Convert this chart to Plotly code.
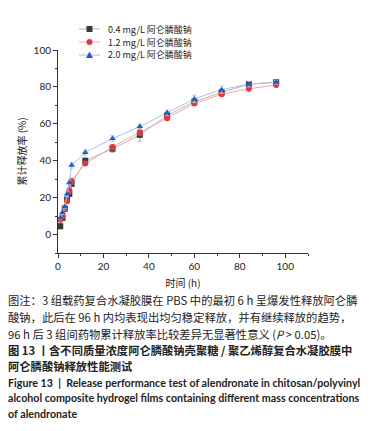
import plotly.graph_objects as go

times = [1, 2, 3, 4, 5, 6, 12, 24, 36, 48, 60, 72, 84, 96]
s04 = [4.5, 9, 14, 19, 22, 27.5, 40, 46.5, 54, 64.5, 72, 77, 81.5, 82.5]
s12 = [8, 10, 14, 18, 24, 29, 38.5, 47.5, 55.5, 63, 71, 76, 79, 81]
s20 = [9, 12, 15, 22, 28, 37.5, 44.5, 52, 58.5, 66, 73.5, 78.5, 81.5, 82.5]
e04 = [1.5, 1, 1, 1, 1.5, 1.5, 1.5, 2, 3.5, 1.5, 1.5, 1, 1, 1]
e12 = [1, 1, 1, 1, 1.5, 1.5, 1, 1.5, 1.5, 1, 1, 1, 1, 1]
e20 = [1, 1, 1, 1.5, 1.5, 1.5, 1.5, 1.5, 1.5, 1.5, 2, 2, 1.5, 1]
names = ["0.4 mg/L 阿仑膦酸钠", "1.2 mg/L 阿仑膦酸钠", "2.0 mg/L 阿仑膦酸钠"]

FONT = "Lato, 'Noto Sans CJK SC', sans-serif"
CJK = "'Noto Sans CJK SC', Lato, sans-serif"

series = [
    (s04, e04, names[0], "square", "#3a3a3a", "#b8b8b8"),
    (s12, e12, names[1], "circle", "#e0383c", "#f2a8aa"),
    (s20, e20, names[2], "triangle-up", "#1f5fc4", "#a6c2ea"),
]

L, R, T, B = 58, 70, 50, 178
W, H = 378, 431
pw = W - L - R
ph = H - T - B

def px_x(xp):
    return (xp - L) / pw

def px_y(yp):
    return (H - B - yp) / ph

fig = go.Figure()
for ys, es, nm, sym, mc, lc in series:
    fig.add_trace(go.Scatter(
        x=times, y=ys, name=nm, mode="lines+markers",
        line=dict(color=lc, width=1),
        marker=dict(symbol=sym, color=mc, size=6),
        error_y=dict(type="data", array=es, color=lc, thickness=1, width=2),
        showlegend=False,
    ))

fig.update_layout(
    width=W, height=H,
    margin=dict(l=L, r=R, t=T, b=B, autoexpand=False),
    paper_bgcolor="white", plot_bgcolor="white",
    font=dict(family=FONT, size=10, color="#222"),
    xaxis=dict(range=[0, 110], tickvals=[0, 20, 40, 60, 80, 100],
               ticks="outside", ticklen=4, tickcolor="#333",
               minor=dict(dtick=10, ticks="outside", ticklen=2, tickcolor="#333"),
               showline=True, linecolor="#333", linewidth=1, showgrid=False, zeroline=False,
               title=dict(text="时间 (h)", font=dict(family=CJK, size=10), standoff=8)),
    yaxis=dict(range=[-10, 100], tickvals=[0, 20, 40, 60, 80, 100],
               ticks="outside", ticklen=4, tickcolor="#333",
               minor=dict(dtick=10, ticks="outside", ticklen=2, tickcolor="#333"),
               showline=True, linecolor="#333", linewidth=1, showgrid=False, zeroline=False,
               title=dict(text="累计释放率 (%)", font=dict(family=CJK, size=10), standoff=5)),
)

# manual compact legend
leg_rows = [29, 42, 55]
for (ys, es, nm, sym, mc, lc), yr in zip(series, leg_rows):
    yy = px_y(yr)
    fig.add_shape(type="line", xref="paper", yref="paper",
                  x0=px_x(79), x1=px_x(100), y0=yy, y1=yy,
                  line=dict(color=lc, width=1))
    cx, cy, r = 89.5, yr, 3
    if sym == "square":
        fig.add_shape(type="rect", xref="paper", yref="paper",
                      x0=px_x(cx - r), x1=px_x(cx + r), y0=px_y(cy + r), y1=px_y(cy - r),
                      fillcolor=mc, line=dict(width=0))
    elif sym == "circle":
        fig.add_shape(type="circle", xref="paper", yref="paper",
                      x0=px_x(cx - r), x1=px_x(cx + r), y0=px_y(cy + r), y1=px_y(cy - r),
                      fillcolor=mc, line=dict(width=0))
    else:
        path = "M %f,%f L %f,%f L %f,%f Z" % (
            px_x(cx), px_y(cy - 3.5), px_x(cx - 3.5), px_y(cy + 3), px_x(cx + 3.5), px_y(cy + 3))
        fig.add_shape(type="path", xref="paper", yref="paper", path=path,
                      fillcolor=mc, line=dict(width=0))
    fig.add_annotation(text=nm, xref="paper", yref="paper", x=px_x(106), y=yy,
                       xanchor="left", yanchor="middle", showarrow=False,
                       font=dict(family=CJK, size=9, color="#222"))

captions = [
    ("图注：3 组载药复合水凝胶膜在 PBS 中的最初 6 h 呈爆发性释放阿仑膦", 300, CJK, 11.3),
    ("酸钠，此后在 96 h 内均表现出均匀稳定释放，并有继续释放的趋势，", 317, CJK, 11.3),
    ("96 h 后 3 组间药物累计释放率比较差异无显著性意义 (<i>P</i> > 0.05)。", 334, CJK, 11.3),
    ("<b>图 13 丨含不同质量浓度阿仑膦酸钠壳聚糖 / 聚乙烯醇复合水凝胶膜中</b>", 350, CJK, 11.3),
    ("<b>阿仑膦酸钠释放性能测试</b>", 366, CJK, 11.3),
    ("<b>Figure 13  |  Release performance test of alendronate in chitosan/polyvinyl</b>", 382, FONT, 10.7),
    ("<b>alcohol composite hydrogel films containing different mass concentrations</b>", 397, FONT, 10.7),
    ("<b>of alendronate</b>", 413, FONT, 10.7),
]
for txt, ypx, fam, fs in captions:
    fig.add_annotation(text=txt, xref="paper", yref="paper",
                       x=px_x(6), y=px_y(ypx), xanchor="left", yanchor="middle",
                       showarrow=False, font=dict(family=fam, size=fs, color="#222"))

fig.write_html("out.html", config={"displayModeBar": False},
               post_script="document.body.style.margin='0px';")
